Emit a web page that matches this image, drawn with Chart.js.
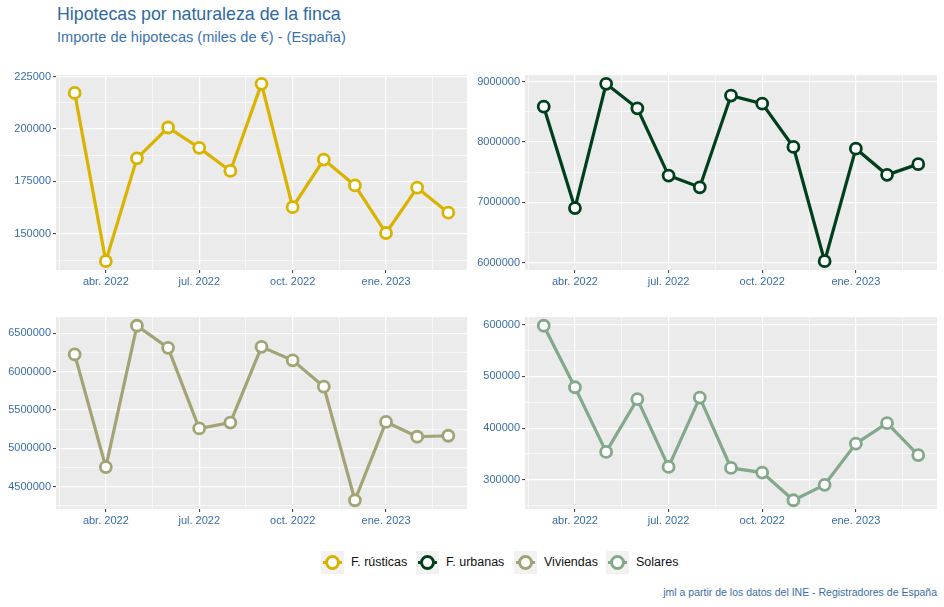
<!DOCTYPE html>
<html>
<head>
<meta charset="utf-8">
<script src="https://cdn.jsdelivr.net/npm/chart.js@4/dist/chart.umd.min.js"></script>
<style>
  body { margin: 0; width: 944px; height: 607px; background: #fff; position: relative; font-family: "Liberation Sans", Arial, sans-serif; overflow: hidden; }
  .panel { position: absolute; }
  #titulo { position: absolute; left: 57px; top: 4px; font-size: 17.8px; color: #2e6aa3; white-space: nowrap; }
  #subtitulo { position: absolute; left: 57px; top: 29px; font-size: 14.6px; color: #3a72ad; white-space: nowrap; }
  #leyenda { position: absolute; left: 321px; top: 551px; height: 23px; }
  .item { position: absolute; top: 0; height: 23px; }
  .key { position: absolute; left: 0; top: 0; width: 23px; height: 23px; background: #f2f2f2; }
  .key .ln { position: absolute; left: 2px; top: 10px; width: 19px; height: 3px; }
  .key .pt { position: absolute; left: 4px; top: 4px; width: 9px; height: 9px; border-radius: 50%; background: #fff; border: 3px solid; }
  .item span { position: absolute; left: 30px; top: 4px; font-size: 12.5px; color: #111; white-space: nowrap; }
  #fuente { position: absolute; right: 7px; top: 586px; font-size: 10.5px; color: #3a6ea5; white-space: nowrap; }
</style>
</head>
<body>
<div id="titulo">Hipotecas por naturaleza de la finca</div>
<div id="subtitulo">Importe de hipotecas (miles de €) - (España)</div>

<div class="panel" style="left:0px;top:68px"><canvas id="c1" width="470" height="222"></canvas></div>
<div class="panel" style="left:470px;top:68px"><canvas id="c2" width="470" height="222"></canvas></div>
<div class="panel" style="left:0px;top:310px"><canvas id="c3" width="470" height="220"></canvas></div>
<div class="panel" style="left:470px;top:310px"><canvas id="c4" width="470" height="220"></canvas></div>

<div id="leyenda"></div>
<div id="fuente">jml a partir de los datos del INE - Registradores de España</div>

<script>
// meses (marzo 2022 - marzo 2023)
const meses = ['mar. 2022', 'abr. 2022', 'may. 2022', 'jun. 2022', 'jul. 2022', 'ago. 2022', 'sep. 2022',
               'oct. 2022', 'nov. 2022', 'dic. 2022', 'ene. 2023', 'feb. 2023', 'mar. 2023'];
const mesesEtiqueta = ['abr. 2022', 'jul. 2022', 'oct. 2022', 'ene. 2023'];

// importes (miles de euros)
const rusticas = [217200, 137000, 186000, 200700, 191000, 180000, 221500, 162700, 185400, 173100, 150400, 172000, 160100];
const urbanas = [8583000, 6906000, 8961000, 8556000, 7444000, 7250000, 8767000, 8633000, 7917000, 6028000, 7889000, 7456000, 7633000];
const viviendas = [6225000, 4757000, 6599000, 6311000, 5260000, 5337000, 6324000, 6148000, 5805000, 4324000, 5345000, 5152000, 5165000];
const solares = [598000, 479000, 354000, 456000, 325000, 459000, 323000, 314000, 260500, 290400, 370000, 409600, 347800];

// marcas del eje y
const ticksRusticas = [150000, 175000, 200000, 225000];
const ticksUrbanas = [6000000, 7000000, 8000000, 9000000];
const ticksViviendas = [4500000, 5000000, 5500000, 6000000, 6500000];
const ticksSolares = [300000, 400000, 500000, 600000];

const series = [
  { id: 'c1', nombre: 'F. rústicas', datos: rusticas, ticks: ticksRusticas, color: '#d9b300', yW: 56 },
  { id: 'c2', nombre: 'F. urbanas', datos: urbanas, ticks: ticksUrbanas, color: '#003f1c', yW: 55 },
  { id: 'c3', nombre: 'Viviendas', datos: viviendas, ticks: ticksViviendas, color: '#a3a376', yW: 56 },
  { id: 'c4', nombre: 'Solares', datos: solares, ticks: ticksSolares, color: '#83a88a', yW: 55 }
];

const colorTexto = '#3a6ea5';
const fuente = { family: '"Liberation Sans", Arial, sans-serif', size: 11 };

// fondo gris del panel
const fondoPanel = {
  id: 'fondoPanel',
  beforeDraw(chart) {
    const a = chart.chartArea;
    const ctx = chart.ctx;
    ctx.save();
    ctx.fillStyle = '#ebebeb';
    ctx.fillRect(a.left, a.top, a.right - a.left, a.bottom - a.top);
    ctx.restore();
  }
};

// x: indice de mes, marcas principales y secundarias
const xMayores = mesesEtiqueta.map(m => meses.indexOf(m));
const xTicks = [];
for (let i = 0; i < xMayores.length; i++) {
  xTicks.push(xMayores[i] - 1.5);
  xTicks.push(xMayores[i]);
}
xTicks.push(xMayores[xMayores.length - 1] + 1.5);
const xMin = -0.6, xMax = meses.length - 1 + 0.6;

series.forEach(s => {
  const dmin = Math.min(...s.datos), dmax = Math.max(...s.datos);
  const exp = (dmax - dmin) * 0.05;
  const yMin = dmin - exp, yMax = dmax + exp;
  const paso = s.ticks[1] - s.ticks[0];
  const yTicks = [];
  for (let i = 0; i < s.ticks.length; i++) {
    yTicks.push(s.ticks[i] - paso / 2);
    yTicks.push(s.ticks[i]);
  }
  yTicks.push(s.ticks[s.ticks.length - 1] + paso / 2);
  const yVisibles = yTicks.filter(v => v >= yMin && v <= yMax);
  const abajo = s.id === 'c3' || s.id === 'c4';

  new Chart(document.getElementById(s.id), {
    type: 'line',
    data: {
      datasets: [{
        label: s.nombre,
        data: s.datos.map((v, i) => ({ x: i, y: v })),
        borderColor: s.color,
        borderWidth: 3.2,
        pointRadius: 5.5,
        pointBorderWidth: 2.8,
        pointBackgroundColor: '#ffffff',
        pointBorderColor: s.color,
        tension: 0,
        clip: false
      }]
    },
    options: {
      responsive: false,
      animation: false,
      events: [],
      layout: { autoPadding: false, padding: { top: 7, right: 3, left: 0, bottom: 0 } },
      plugins: { legend: { display: false }, tooltip: { enabled: false } },
      scales: {
        x: {
          type: 'linear',
          min: xMin,
          max: xMax,
          afterBuildTicks: scale => { scale.ticks = xTicks.map(v => ({ value: v })); },
          afterFit: scale => {
            scale.height = abajo ? 21 : 20;
            scale.paddingLeft = 0;
            scale.paddingRight = 0;
          },
          border: { display: false },
          grid: {
            color: '#ffffff',
            lineWidth: c => Number.isInteger(c.tick.value) ? 1.2 : 0.6,
            tickColor: c => Number.isInteger(c.tick.value) ? '#333333' : 'rgba(0,0,0,0)',
            tickLength: 3,
            tickWidth: 1
          },
          ticks: {
            autoSkip: false,
            maxRotation: 0,
            padding: 2,
            color: colorTexto,
            font: fuente,
            callback: v => xMayores.includes(v) ? meses[v] : ''
          }
        },
        y: {
          min: yMin,
          max: yMax,
          afterBuildTicks: scale => { scale.ticks = yVisibles.map(v => ({ value: v })); },
          afterFit: scale => {
            scale.width = s.yW;
            scale.paddingTop = 0;
            scale.paddingBottom = 0;
          },
          border: { display: false },
          grid: {
            color: '#ffffff',
            lineWidth: c => s.ticks.includes(c.tick.value) ? 1.2 : 0.6,
            tickColor: c => s.ticks.includes(c.tick.value) ? '#333333' : 'rgba(0,0,0,0)',
            tickLength: 3,
            tickWidth: 1
          },
          ticks: {
            autoSkip: false,
            padding: 2,
            color: colorTexto,
            font: fuente,
            callback: v => s.ticks.includes(v) ? String(v) : ''
          }
        }
      }
    },
    plugins: [fondoPanel]
  });
});

// leyenda
const posLeyenda = [0, 95, 193, 285];
const leyenda = document.getElementById('leyenda');
series.forEach((s, i) => {
  const it = document.createElement('div');
  it.className = 'item';
  it.style.left = posLeyenda[i] + 'px';
  it.innerHTML = '<div class="key"><div class="ln" style="background:' + s.color + '"></div>' +
    '<div class="pt" style="border-color:' + s.color + '"></div></div><span>' + s.nombre + '</span>';
  leyenda.appendChild(it);
});
</script>
</body>
</html>
